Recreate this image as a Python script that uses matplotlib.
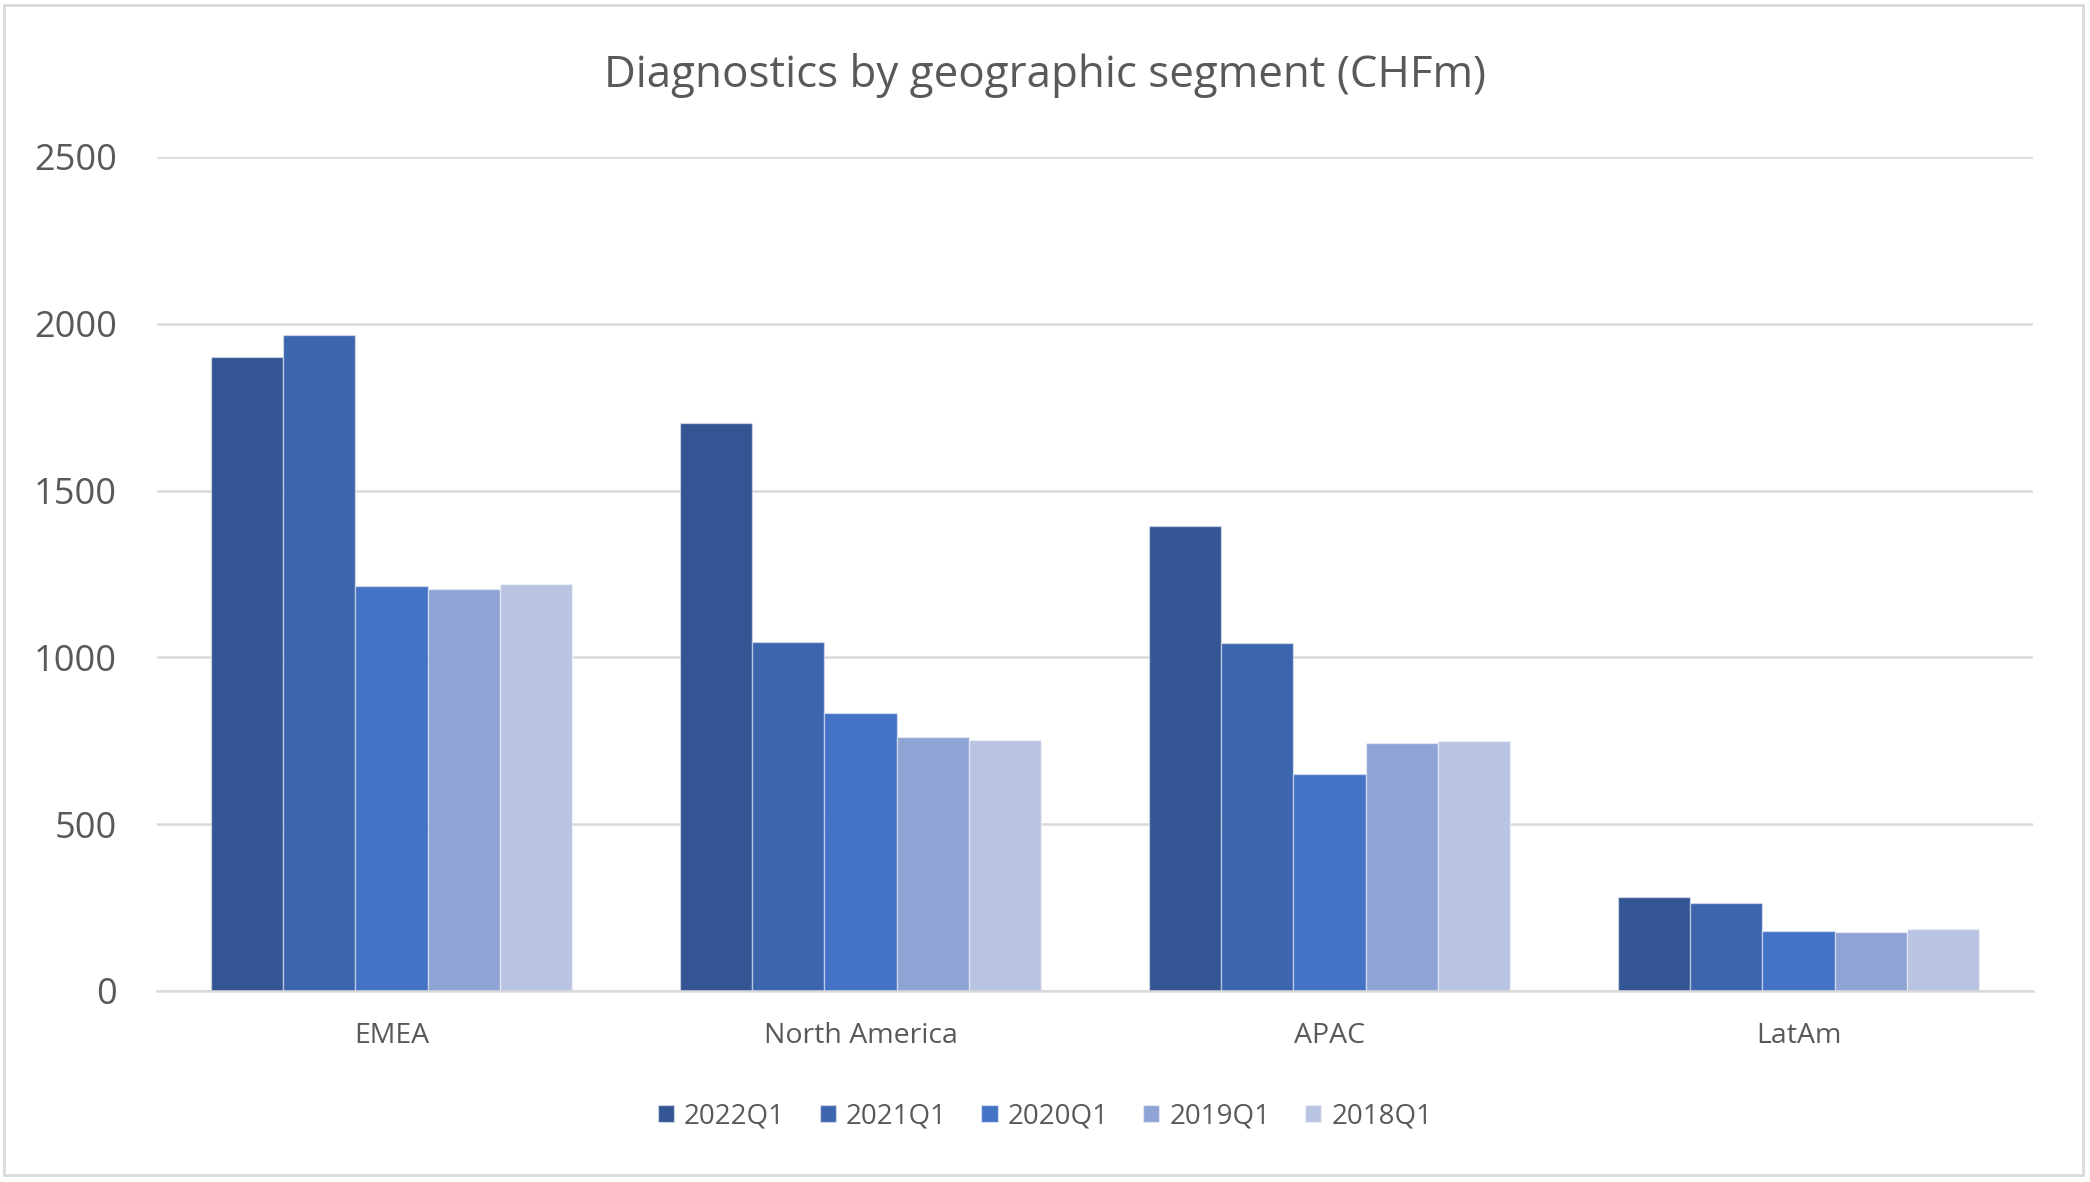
import matplotlib
matplotlib.use("Agg")
import matplotlib.pyplot as plt
from matplotlib.patches import Rectangle
import numpy as np

categories = ["EMEA", "North America", "APAC", "LatAm"]
series_names = ["2022Q1", "2021Q1", "2020Q1", "2019Q1", "2018Q1"]
v2022 = [1900, 1702, 1393, 283]
v2021 = [1966, 1047, 1042, 265]
v2020 = [1213, 832, 650, 181]
v2019 = [1206, 762, 744, 178]
v2018 = [1219, 751, 749, 187]
yticks = [0, 500, 1000, 1500, 2000, 2500]

series_values = [v2022, v2021, v2020, v2019, v2018]
colors = ["#335593", "#3D65AD", "#4472C4", "#8FA3D4", "#B9C3E2"]

plt.rcParams["font.family"] = ["Open Sans", "DejaVu Sans"]
text_color = "#595959"
grid_color = "#D9D9D9"

fig = plt.figure(figsize=(20.9, 11.82), dpi=100)
ax = fig.add_axes([157 / 2090, 1 - 991 / 1182, (2033 - 157) / 2090, (991 - 157) / 1182])

x = np.arange(len(categories))
bw = 0.154
n = len(series_names)
for i, (name, vals, c) in enumerate(zip(series_names, series_values, colors)):
    offs = (i - (n - 1) / 2) * bw
    ax.bar(x + offs, vals, width=bw, color=c, edgecolor=(1, 1, 1, 0.45),
           linewidth=1.0, label=name, zorder=3)

ax.set_xlim(-0.5, len(categories) - 0.5)
ax.set_ylim(0, 2500)
ax.set_yticks(yticks)
ax.set_yticklabels([str(t) for t in yticks])
ax.set_xticks(x)
ax.set_xticklabels(categories)
ax.tick_params(axis="y", length=0, pad=29, labelsize=26, labelcolor=text_color)
ax.tick_params(axis="x", length=0, pad=22.5, labelsize=20.5, labelcolor=text_color)
ax.grid(axis="y", color=grid_color, linewidth=1.8, zorder=0)
for s in ["top", "right", "left"]:
    ax.spines[s].set_visible(False)
ax.spines["bottom"].set_color(grid_color)
ax.spines["bottom"].set_linewidth(1.8)
ax.spines["bottom"].set_zorder(4)

fig.text(0.5, 1 - 75 / 1182, "Diagnostics by geographic segment (CHFm)",
         ha="center", va="center", fontsize=31.6, color=text_color)

leg = fig.legend(loc="center", bbox_to_anchor=(0.5, 1 - 1116 / 1182), ncol=5,
                 frameon=False, fontsize=20, handlelength=0.58, handleheight=0.58,
                 handletextpad=0.36, columnspacing=1.25, labelcolor=text_color)

fig.patches.append(Rectangle((4 / 2090, 1 - 1175 / 1182), (2083 - 4) / 2090,
                             (1175 - 5) / 1182, transform=fig.transFigure,
                             fill=False, edgecolor=grid_color, linewidth=2))

fig.savefig("out.png", dpi=100, facecolor="white")
